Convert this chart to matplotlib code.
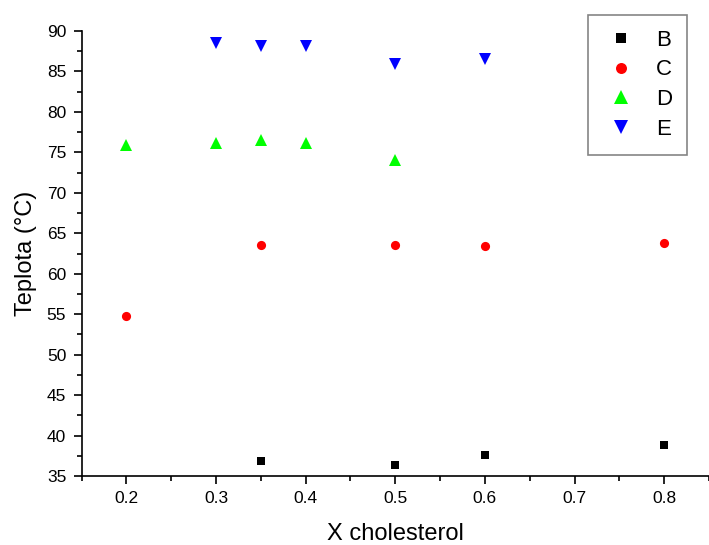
import numpy as np
import matplotlib.pyplot as plt

# data
x_B = [0.35, 0.5, 0.6, 0.8]
y_B = [36.9, 36.4, 37.6, 38.8]

x_C = [0.2, 0.35, 0.5, 0.6, 0.8]
y_C = [54.8, 63.6, 63.5, 63.4, 63.8]

x_D = [0.2, 0.3, 0.35, 0.4, 0.5]
y_D = [75.9, 76.1, 76.5, 76.1, 74.1]

x_E = [0.3, 0.35, 0.4, 0.5, 0.6]
y_E = [88.5, 88.1, 88.2, 85.9, 86.6]

plt.rcParams.update({
    "font.family": ["Liberation Sans", "DejaVu Sans"],
    "font.size": 12.5,
    "axes.linewidth": 1.2,
})

fig = plt.figure(figsize=(7.09, 5.45), dpi=100)
ax = fig.add_axes([0.115, 0.1266, 0.885, 0.8165])

ax.plot(x_B, y_B, "s", color="black", markersize=6.2, markeredgewidth=0, label="B")
ax.plot(x_C, y_C, "o", color="red", markersize=6.6, markeredgewidth=0, label="C")
ax.plot(x_D, y_D, "^", color="#00ff00", markersize=8.8, markeredgewidth=0, label="D")
ax.plot(x_E, y_E, "v", color="blue", markersize=8.8, markeredgewidth=0, label="E")

ax.set_xlim(0.15, 0.85)
ax.set_ylim(35, 90)
ax.set_xticks([0.2, 0.3, 0.4, 0.5, 0.6, 0.7, 0.8])
ax.set_xticks(np.arange(0.15, 0.86, 0.05), minor=True)
ax.set_yticks(np.arange(35, 91, 5))
ax.set_yticks(np.arange(37.5, 90, 5), minor=True)

ax.spines["top"].set_visible(False)
ax.spines["right"].set_visible(False)
ax.tick_params(which="major", direction="out", length=6, width=1.2, labelsize=12.5, pad=5)
ax.tick_params(which="minor", direction="out", length=3.5, width=1.2)

ax.set_xlabel("X cholesterol", fontsize=17, labelpad=12)
ax.set_ylabel("Teplota (°C)", fontsize=17, labelpad=7)

leg = ax.legend(loc="upper right", bbox_to_anchor=(0.965, 1.037), fontsize=16,
                frameon=True, fancybox=False, edgecolor="#666666",
                borderaxespad=0, handlelength=1.6, handletextpad=0.75,
                labelspacing=0.39, borderpad=0.68, markerscale=1.2)
leg.get_frame().set_linewidth(1.2)

fig.savefig("out.png", dpi=100)
